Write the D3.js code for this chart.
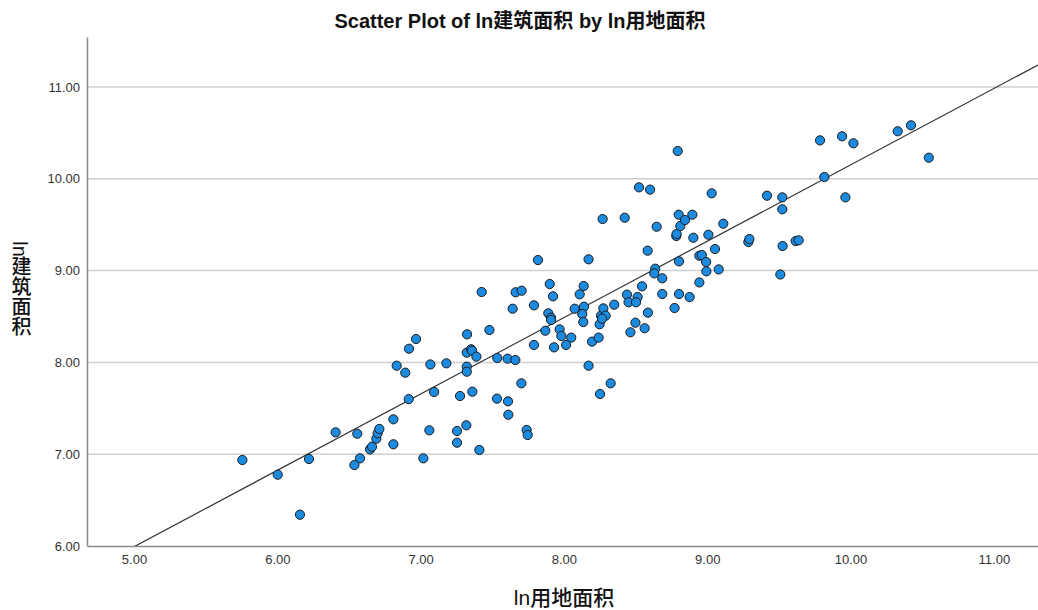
<!DOCTYPE html>
<html>
<head>
<meta charset="utf-8">
<script src="https://cdn.jsdelivr.net/npm/d3@7/dist/d3.min.js"></script>
<style>
  html, body { margin: 0; padding: 0; background: #fff; }
  svg { display: block; }
  text { font-family: "Liberation Sans", Arial, "Noto Sans CJK SC", sans-serif; }
</style>
</head>
<body>
<svg id="chart" width="1038" height="610"></svg>
<script>
// ---- data ----
const lnLandArea = [
  5.756, 6.003, 6.221, 6.158, 6.407, 6.558, 6.577, 6.538, 6.647, 6.661,
  6.691, 6.700, 6.712, 6.810, 6.810, 6.917, 7.019, 7.061, 7.254, 7.254,
  7.319, 7.410, 7.612, 7.740, 7.747, 6.833, 6.893, 6.919, 6.968, 7.068,
  7.180, 7.094, 7.275, 7.361, 7.324, 7.480, 7.426, 7.322, 7.352, 7.359,
  7.389, 7.322, 7.322, 7.535, 7.607, 7.661, 7.703, 7.533, 7.610, 7.642,
  7.663, 7.705, 7.791, 7.819, 7.791, 7.870, 7.901, 7.924, 7.891, 7.910,
  7.910, 7.970, 7.982, 8.051, 8.015, 7.931, 8.075, 8.110, 8.138, 8.140,
  8.128, 8.135, 8.172, 8.172, 8.196, 8.242, 8.249, 8.259, 8.275, 8.291,
  8.266, 8.252, 8.326, 8.351, 8.440, 8.451, 8.514, 8.503, 8.464, 8.499,
  8.563, 8.586, 8.545, 8.584, 8.637, 8.630, 8.686, 8.686, 8.647, 8.803,
  8.803, 8.772, 8.877, 8.784, 8.786, 8.812, 8.903, 9.008, 9.112, 8.945,
  8.962, 8.992, 8.994, 9.054, 9.080, 8.945, 8.794, 8.524, 8.601, 9.031,
  8.270, 8.424, 8.801, 8.845, 8.896, 9.417, 9.524, 9.524, 9.817, 9.964,
  9.787, 9.941, 10.020, 10.329, 10.422, 10.546, 9.287, 9.294, 9.526, 9.510,
  9.617, 9.638
];
const lnBuildingArea = [
  6.937, 6.777, 6.948, 6.341, 7.238, 7.223, 6.955, 6.882, 7.053, 7.082,
  7.169, 7.228, 7.275, 7.380, 7.108, 7.600, 6.955, 7.260, 7.253, 7.125,
  7.315, 7.046, 7.430, 7.264, 7.209, 7.964, 7.888, 8.149, 8.255, 7.978,
  7.990, 7.678, 7.634, 7.681, 8.306, 8.353, 8.767, 8.106, 8.143, 8.128,
  8.063, 7.954, 7.899, 8.048, 8.041, 8.026, 7.772, 7.605, 7.576, 8.585,
  8.764, 8.781, 8.622, 9.115, 8.190, 8.345, 8.854, 8.720, 8.535, 8.487,
  8.462, 8.360, 8.288, 8.270, 8.190, 8.164, 8.585, 8.742, 8.832, 8.607,
  8.527, 8.440, 9.123, 7.964, 8.226, 8.270, 8.415, 8.509, 8.589, 8.509,
  8.476, 7.656, 7.772, 8.629, 8.738, 8.655, 8.712, 8.655, 8.328, 8.433,
  8.372, 8.542, 8.829, 9.217, 9.021, 8.970, 8.916, 8.745, 9.478, 9.101,
  8.745, 8.593, 8.712, 9.377, 9.399, 9.486, 9.358, 9.391, 9.511, 9.162,
  9.170, 9.094, 8.992, 9.235, 9.013, 8.871, 10.303, 9.907, 9.882, 9.842,
  9.562, 9.576, 9.609, 9.551, 9.609, 9.816, 9.798, 9.668, 10.020, 9.798,
  10.419, 10.463, 10.387, 10.518, 10.583, 10.230, 9.312, 9.344, 9.268, 8.958,
  9.322, 9.330
];
const xTicks = [5, 6, 7, 8, 9, 10, 11];
const yTicks = [6, 7, 8, 9, 10, 11];
const xDomain = [4.672, 11.308];
const yDomain = [6, 11.545];
const fitIntercept = 1.832;   // fit line
const fitSlope = 0.832;
const titleText = "Scatter Plot of ln建筑面积 by ln用地面积";
const xTitle = "ln用地面积";
const yTitle = "ln建筑面积";

// ---- layout ----
const svg = d3.select("#chart");
const L = 87, R = 1038, T = 37, B = 546;

const x = d3.scaleLinear().domain(xDomain).range([L, R]);
const y = d3.scaleLinear().domain(yDomain).range([B, T]);

svg.append("defs").append("clipPath").attr("id", "plotclip")
  .append("rect").attr("x", L).attr("y", T).attr("width", R - L).attr("height", B - T);

// gridlines
svg.append("g")
  .selectAll("line")
  .data(yTicks.filter(d => d !== yDomain[0]))
  .join("line")
  .attr("x1", L).attr("x2", R)
  .attr("y1", d => y(d)).attr("y2", d => y(d))
  .attr("stroke", "#cfcfcf").attr("stroke-width", 1.5);

// y axis
const yAxis = d3.axisLeft(y).tickValues(yTicks).tickFormat(d3.format(".2f")).tickSize(0).tickPadding(7);
const gy = svg.append("g").attr("transform", `translate(${L},0)`).call(yAxis);
gy.select(".domain").attr("stroke", "#8a8a8a").attr("stroke-width", 1.5);
gy.selectAll("text").attr("font-size", 13).attr("fill", "#333")
  .style("font-family", "'Liberation Sans', Arial, sans-serif");

// x axis
const xAxis = d3.axisBottom(x).tickValues(xTicks).tickFormat(d3.format(".2f")).tickSize(0).tickPadding(9);
const gx = svg.append("g").attr("transform", `translate(0,${B})`).call(xAxis);
gx.select(".domain").attr("stroke", "#8a8a8a").attr("stroke-width", 1.5);
gx.selectAll("text").attr("font-size", 13).attr("fill", "#333")
  .style("font-family", "'Liberation Sans', Arial, sans-serif");

// fit line
const fitX = [xDomain[0], xDomain[1]];
svg.append("line")
  .attr("clip-path", "url(#plotclip)")
  .attr("x1", x(fitX[0])).attr("y1", y(fitIntercept + fitSlope * fitX[0]))
  .attr("x2", x(fitX[1])).attr("y2", y(fitIntercept + fitSlope * fitX[1]))
  .attr("stroke", "#333").attr("stroke-width", 1.2);

// points
const pts = lnLandArea.map((v, i) => ({ x: v, y: lnBuildingArea[i] }));
svg.append("g")
  .selectAll("circle")
  .data(pts)
  .join("circle")
  .attr("cx", d => x(d.x))
  .attr("cy", d => y(d.y))
  .attr("r", 4.6)
  .attr("fill", "#1b8be0")
  .attr("stroke", "#1a1a1a")
  .attr("stroke-width", 1);

// title
svg.append("text")
  .attr("x", 520).attr("y", 28)
  .attr("text-anchor", "middle")
  .attr("font-size", 20).attr("font-weight", "bold").attr("fill", "#111")
  .text(titleText);

// x title
svg.append("text")
  .attr("x", 564).attr("y", 605)
  .attr("text-anchor", "middle")
  .attr("font-size", 21).attr("fill", "#111")
  .attr("font-weight", "500")
  .text(xTitle);

// y title (vertical writing)
svg.append("text")
  .attr("x", 20).attr("y", 289)
  .attr("text-anchor", "middle")
  .style("writing-mode", "vertical-rl")
  .style("text-orientation", "mixed")
  .attr("font-size", 20).attr("fill", "#111")
  .attr("font-weight", "500")
  .text(yTitle);
</script>
</body>
</html>
